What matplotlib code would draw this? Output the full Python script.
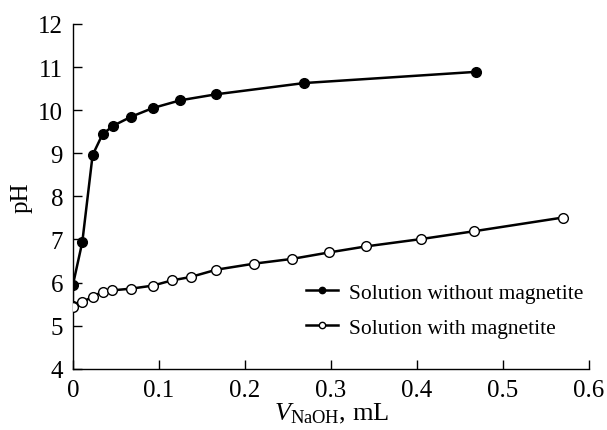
import matplotlib
matplotlib.use("Agg")
import matplotlib.pyplot as plt

# titration volume (mL) and pH for both solutions
vol_without = [0.0, 0.0, 0.011, 0.023, 0.0345, 0.047, 0.068, 0.093, 0.125, 0.167, 0.269, 0.469]
ph_without = [5.45, 5.94, 6.94, 8.96, 9.44, 9.64, 9.85, 10.05, 10.23, 10.37, 10.63, 10.89]

vol_with = [0.0, 0.011, 0.023, 0.0345, 0.046, 0.068, 0.093, 0.115, 0.137, 0.167,
            0.211, 0.255, 0.298, 0.341, 0.405, 0.466, 0.570]
ph_with = [5.43, 5.55, 5.67, 5.79, 5.82, 5.86, 5.93, 6.05, 6.13, 6.30,
           6.44, 6.55, 6.70, 6.84, 7.01, 7.19, 7.51]

xticks = [0, 0.1, 0.2, 0.3, 0.4, 0.5, 0.6]
xtick_labels = ["0", "0.1", "0.2", "0.3", "0.4", "0.5", "0.6"]
yticks = [4, 5, 6, 7, 8, 9, 10, 11, 12]

plt.rcParams["font.family"] = ["Liberation Serif", "DejaVu Serif"]
plt.rcParams["mathtext.fontset"] = "custom"
plt.rcParams["mathtext.rm"] = "Liberation Serif"
plt.rcParams["mathtext.it"] = "Liberation Serif:italic"

fig = plt.figure(figsize=(6.07, 4.31), dpi=100)
ax = fig.add_axes([0.120, 0.142, 0.850, 0.800])

ax.plot(vol_without, ph_without, color="black", lw=1.8, marker="o", ms=7,
        mfc="black", mec="black", label="Solution without magnetite", zorder=2)
ax.plot(vol_with, ph_with, color="black", lw=1.8, marker="o", ms=7,
        mfc="white", mec="black", mew=1.0, label="Solution with magnetite", zorder=3)

ax.set_xlim(0, 0.6)
ax.set_ylim(4, 12)
ax.set_xticks(xticks)
ax.set_xticklabels(xtick_labels)
ax.set_yticks(yticks)
ax.tick_params(direction="in", length=6.5, width=1.0, labelsize=18)
ax.tick_params(axis="x", pad=7)
ax.tick_params(axis="y", pad=7)

ax.spines["top"].set_visible(False)
ax.spines["right"].set_visible(False)
for s in ("left", "bottom"):
    ax.spines[s].set_linewidth(1.0)

ax.set_ylabel("pH", fontsize=18)
ax.yaxis.set_label_coords(-0.079, 0.5)
ax.set_xlabel(r"$V_{\mathrm{NaOH}}$, mL", fontsize=19)
ax.xaxis.set_label_coords(0.502, -0.092)

ax.legend(loc="upper left", bbox_to_anchor=(0.452, 0.249), frameon=False,
          fontsize=15.5, handlelength=1.5, handletextpad=0.5, labelspacing=0.68,
          markerscale=0.65, borderpad=0, borderaxespad=0)

fig.savefig("out.png", dpi=100)
